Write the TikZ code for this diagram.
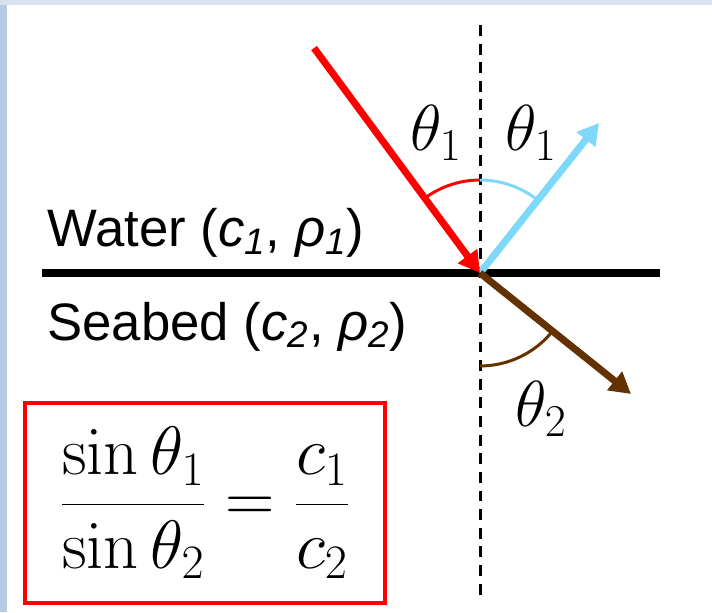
\RequirePackage{fix-cm}
\documentclass[tikz,border=0pt]{standalone}
\usepackage[no-math]{fontspec}
\newfontfamily\labelfont{Liberation Sans}
\usetikzlibrary{arrows.meta, angles}
\definecolor{incident}{RGB}{255,0,0}
\definecolor{reflected}{RGB}{125,216,250}
\definecolor{refracted}{RGB}{99,50,0}
\definecolor{slideedge}{RGB}{216,226,238}
\definecolor{slideside}{RGB}{184,203,228}

\begin{document}
\begin{tikzpicture}[x=0.02cm, y=0.02cm,
        ray/.style={line width=4pt, -{Triangle[length=12pt, width=13pt]}},
        medium/.style={font=\labelfont\fontsize{30}{36}\selectfont, anchor=base west, inner sep=0pt},
        angmark/.style={line width=1.7pt, angle radius=1.86cm},
        angtext/.style={font=\fontsize{37}{42}\selectfont, inner sep=0pt}
    ]
    \useasboundingbox (0,0) rectangle (712,612);
    % slide edge
    \fill[slideedge] (0,607) rectangle (712,612);
    \fill[slideside] (0,0) rectangle (7,607);

    \coordinate (O)      at (480,339);
    \coordinate (src)    at (314,564);
    \coordinate (refl)   at (599,489);
    \coordinate (refr)   at (631,218);
    \coordinate (ntop)   at (480,587);
    \coordinate (nbot)   at (480,16);
    \coordinate (sleft)  at (42,339);
    \coordinate (sright) at (660,339);

    \draw[line width=1.7pt, dash pattern=on 6.2pt off 4.4pt] (ntop) -- (nbot);
    \draw[line width=4pt] (sleft) -- (sright);

    \pic[draw=incident, angmark] {angle=ntop--O--src};
    \pic[draw=reflected, angmark] {angle=refl--O--ntop};
    \pic[draw=refracted, angmark] {angle=nbot--O--refr};

    \draw[ray, reflected] (O) -- (refl);
    \draw[ray, refracted] (O) -- (refr);
    \draw[ray, incident] (src) -- (O);

    \node[angtext] (inang)  at (436,479) {$\theta_1$};
    \node[angtext] (refang) at (531,479) {$\theta_1$};
    \node[angtext] (trang)  at (541,203) {$\theta_2$};

    \node[medium] (water)  at (47,365) {Water (\textit{c}\textsubscript{\textit{1}}, \textit{ρ}\textsubscript{\textit{1}})};
    \node[medium] (seabed) at (47,272) {Seabed (\textit{c}\textsubscript{\textit{2}}, \textit{ρ}\textsubscript{\textit{2}})};

    \node[draw=incident, line width=2.5pt, minimum width=7.2cm, minimum height=4cm,
          font=\fontsize{39}{44}\selectfont] (snell) at (205,109)
        {$\displaystyle\frac{\sin\theta_1}{\sin\theta_2}=\frac{c_1}{c_2}$};
\end{tikzpicture}
\end{document}
